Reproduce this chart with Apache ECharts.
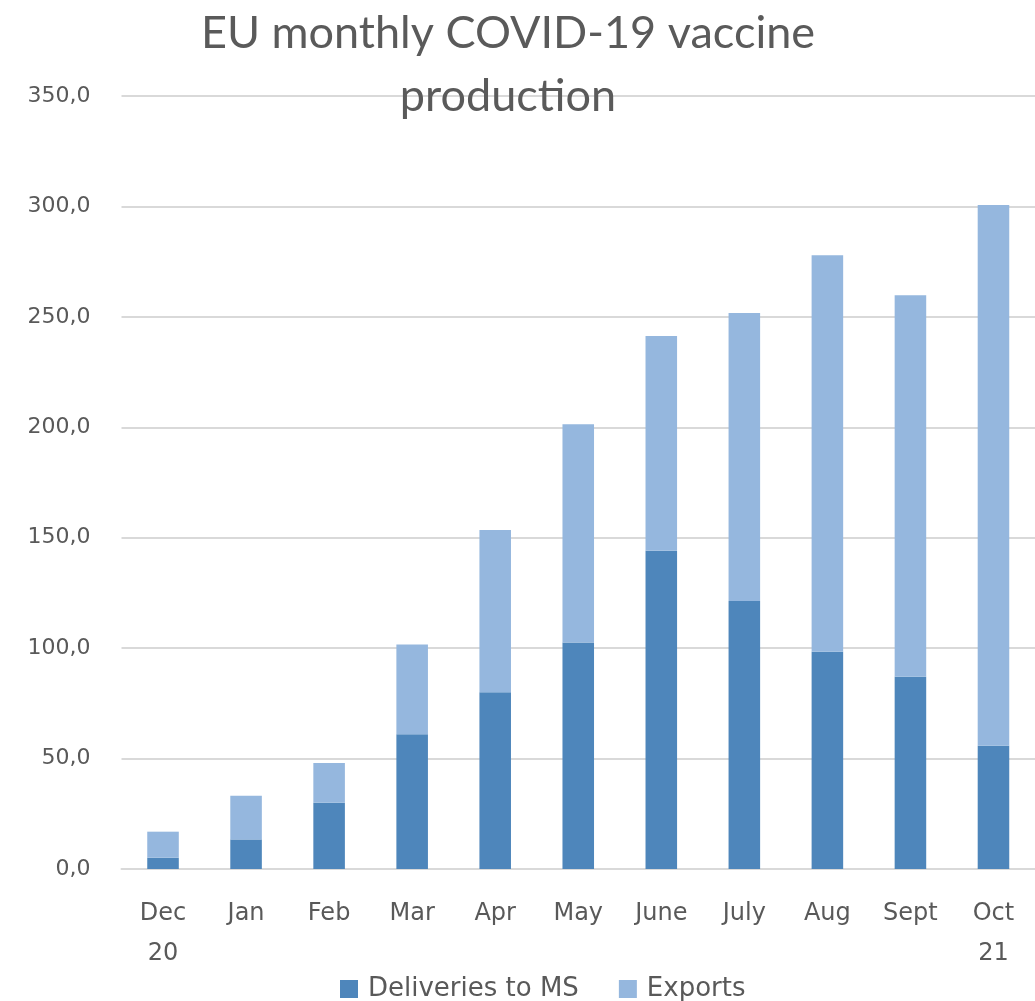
<!DOCTYPE html>
<html><head><meta charset="utf-8">
<script src="https://cdn.jsdelivr.net/npm/echarts@6/dist/echarts.min.js"></script>
<style>html,body{margin:0;padding:0;background:#fff}#c{width:1035px;height:1001px}</style>
</head><body><div id="c"></div>
<script>
var categories = ['Dec\n20','Jan','Feb','Mar','Apr','May','June','July','Aug','Sept','Oct\n21'];
var deliveries = [5.1, 13.4, 30.0, 61.0, 80.0, 102.6, 144.1, 121.3, 98.4, 87.0, 55.8];
var exportsVals = [11.8, 19.8, 18.0, 40.7, 73.5, 98.8, 97.2, 130.4, 179.5, 172.8, 244.8];
var yTicks = [0, 50, 100, 150, 200, 250, 300, 350];

var chart = echarts.init(document.getElementById('c'), null, {renderer:'canvas'});
var titleFont = 'Lato, "Open Sans", sans-serif';
var font = '"DejaVu Sans", sans-serif';
chart.setOption({
  animation: false,
  backgroundColor: '#fff',
  title: {
    text: 'EU monthly COVID-19 vaccine\nproduction',
    left: 503, top: -3, textAlign: 'center',
    textStyle: {fontFamily: titleFont, fontWeight: 'normal', fontSize: 45, color: '#5a5a5a', lineHeight: 63}
  },
  legend: {
    bottom: -6, left: 335, itemWidth: 18, itemHeight: 18, itemGap: 40,
    icon: 'rect',
    textStyle: {fontFamily: font, fontSize: 26, color: '#595959', padding: [0, 0, 0, 5]},
    data: ['Deliveries to MS', 'Exports']
  },
  grid: {left: 121.5, right: -3, top: 96, bottom: 132, containLabel: false},
  xAxis: {
    type: 'category', data: categories,
    axisTick: {show: false},
    axisLine: {lineStyle: {color: '#d9d9d9', width: 2}},
    axisLabel: {fontFamily: font, fontSize: 24, color: '#595959', margin: 25, lineHeight: 40, interval: 0}
  },
  yAxis: {
    type: 'value', min: yTicks[0], max: yTicks[yTicks.length-1], interval: 50,
    axisLine: {show: false}, axisTick: {show: false},
    splitLine: {lineStyle: {color: '#d9d9d9', width: 2}},
    axisLabel: {fontFamily: font, fontSize: 22, color: '#595959', margin: 31,
      formatter: function(v){ return v.toFixed(1).replace('.', ','); }}
  },
  series: [
    {name: 'Deliveries to MS', type: 'bar', stack: 't', data: deliveries, barWidth: '38%',
     itemStyle: {color: '#4e86bb'}},
    {name: 'Exports', type: 'bar', stack: 't', data: exportsVals, barWidth: '38%',
     itemStyle: {color: '#95b7de'}}
  ]
});
</script></body></html>
